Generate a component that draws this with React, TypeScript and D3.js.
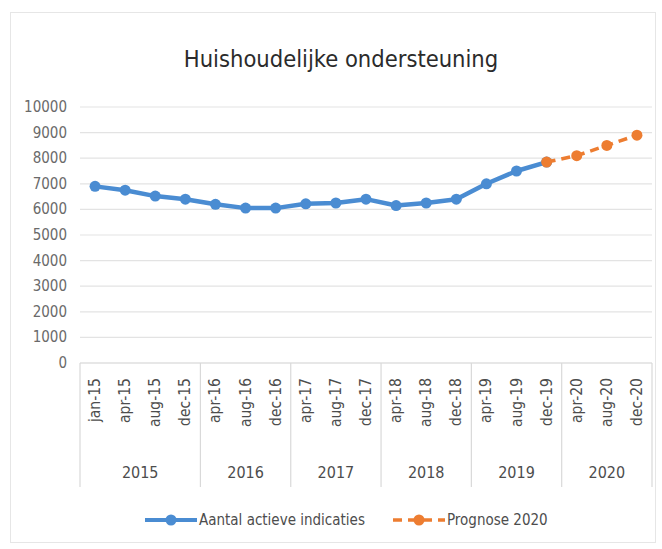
import * as d3 from "d3";
import { useEffect, useRef } from "react";

// categories (month labels) and the year groups they belong to
const months = [
  "jan-15", "apr-15", "aug-15", "dec-15",
  "apr-16", "aug-16", "dec-16",
  "apr-17", "aug-17", "dec-17",
  "apr-18", "aug-18", "dec-18",
  "apr-19", "aug-19", "dec-19",
  "apr-20", "aug-20", "dec-20",
];
const years = ["2015", "2016", "2017", "2018", "2019", "2020"];
const yearSizes = [4, 3, 3, 3, 3, 3];

// Aantal actieve indicaties (jan-15 .. dec-19)
const actual = [
  6900, 6750, 6520, 6400, 6200, 6050, 6050, 6220, 6250, 6400,
  6150, 6250, 6400, 7000, 7500, 7850,
];
// Prognose 2020 (dec-19 .. dec-20)
const forecastMonths = ["dec-19", "apr-20", "aug-20", "dec-20"];
const forecast = [7850, 8100, 8500, 8900];

const yTicks = [0, 1000, 2000, 3000, 4000, 5000, 6000, 7000, 8000, 9000, 10000];

const W = 662;
const H = 549;
const FONT = "'DejaVu Sans Condensed', 'Noto Sans', sans-serif";
const BLUE = "#4a8cd2";
const ORANGE = "#ed7d31";
const GREY = "#4d4d4d";

const App = () => {
  const ref = useRef<SVGSVGElement | null>(null);

  useEffect(() => {
    const svg = d3.select(ref.current);
    svg.selectAll("*").remove();

    const left = 80, right = 652, top = 107, bottom = 363;

    svg.append("rect")
      .attr("x", 10.5).attr("y", 12.5)
      .attr("width", 645).attr("height", 530)
      .attr("fill", "white").attr("stroke", "#e6e6e6");

    svg.append("text")
      .attr("x", 341).attr("y", 67)
      .attr("text-anchor", "middle")
      .attr("font-family", FONT)
      .attr("font-size", 23.5)
      .attr("fill", "#2b2b2b")
      .text("Huishoudelijke ondersteuning");

    const x = d3.scaleBand().domain(months).range([left, right]);
    const y = d3.scaleLinear().domain([0, 10000]).range([bottom, top]);
    const cx = (m: string) => (x(m) as number) + x.bandwidth() / 2;

    // gridlines + y labels
    svg.append("g").selectAll("line").data(yTicks).join("line")
      .attr("x1", left).attr("x2", right)
      .attr("y1", d => y(d)).attr("y2", d => y(d))
      .attr("stroke", d => (d === 0 ? "#d0d0d0" : "#e3e3e3"))
      .attr("stroke-width", 1.2);

    svg.append("g").selectAll("text").data(yTicks).join("text")
      .attr("x", 67).attr("y", d => y(d) + 5)
      .attr("text-anchor", "end")
      .attr("font-family", FONT).attr("font-size", 15)
      .attr("fill", "#6a6a6a")
      .text(d => String(d));

    // category axis: year separators
    const bounds = [0, ...d3.cumsum(yearSizes)];
    svg.append("g").selectAll("line").data(bounds).join("line")
      .attr("x1", i => left + i * x.step()).attr("x2", i => left + i * x.step())
      .attr("y1", bottom).attr("y2", 487)
      .attr("stroke", "#d9d9d9").attr("stroke-width", 1.2);

    svg.append("g").selectAll("text").data(months).join("text")
      .attr("transform", m => `translate(${cx(m) + 5},378) rotate(-90)`)
      .attr("text-anchor", "end")
      .attr("font-family", FONT).attr("font-size", 15.5)
      .attr("fill", GREY)
      .text(m => m);

    svg.append("g").selectAll("text").data(years).join("text")
      .attr("x", (_, i) => left + ((bounds[i] + bounds[i + 1]) / 2) * x.step())
      .attr("y", 478)
      .attr("text-anchor", "middle")
      .attr("font-family", FONT).attr("font-size", 16)
      .attr("fill", GREY)
      .text(d => d);

    const line = d3.line<[string, number]>().x(d => cx(d[0])).y(d => y(d[1]));
    const actualPts: [string, number][] = actual.map((v, i) => [months[i], v]);
    const forecastPts: [string, number][] = forecast.map((v, i) => [forecastMonths[i], v]);

    svg.append("path").datum(actualPts)
      .attr("d", line).attr("fill", "none")
      .attr("stroke", BLUE).attr("stroke-width", 4.5)
      .attr("stroke-linejoin", "round");
    svg.append("g").selectAll("circle").data(actualPts).join("circle")
      .attr("cx", d => cx(d[0])).attr("cy", d => y(d[1]))
      .attr("r", 5.5).attr("fill", BLUE);

    svg.append("path").datum(forecastPts)
      .attr("d", line).attr("fill", "none")
      .attr("stroke", ORANGE).attr("stroke-width", 3.5)
      .attr("stroke-dasharray", "9,6");
    svg.append("g").selectAll("circle").data(forecastPts).join("circle")
      .attr("cx", d => cx(d[0])).attr("cy", d => y(d[1]))
      .attr("r", 5.5).attr("fill", ORANGE);

    // legend
    const lg = svg.append("g");
    lg.append("line").attr("x1", 145).attr("x2", 197).attr("y1", 520).attr("y2", 520)
      .attr("stroke", BLUE).attr("stroke-width", 4);
    lg.append("circle").attr("cx", 171).attr("cy", 520).attr("r", 5.5).attr("fill", BLUE);
    lg.append("text").attr("x", 199).attr("y", 525)
      .attr("font-family", FONT).attr("font-size", 15).attr("fill", GREY)
      .text("Aantal actieve indicaties");
    lg.append("line").attr("x1", 393).attr("x2", 445).attr("y1", 520).attr("y2", 520)
      .attr("stroke", ORANGE).attr("stroke-width", 3.5).attr("stroke-dasharray", "9,6");
    lg.append("circle").attr("cx", 419).attr("cy", 520).attr("r", 5.5).attr("fill", ORANGE);
    lg.append("text").attr("x", 447).attr("y", 525)
      .attr("font-family", FONT).attr("font-size", 15).attr("fill", GREY)
      .text("Prognose 2020");
  }, []);

  return (
    <svg
      ref={ref}
      width={W}
      height={H}
      style={{ position: "absolute", left: 0, top: 0, background: "white" }}
    />
  );
};

export default App;
